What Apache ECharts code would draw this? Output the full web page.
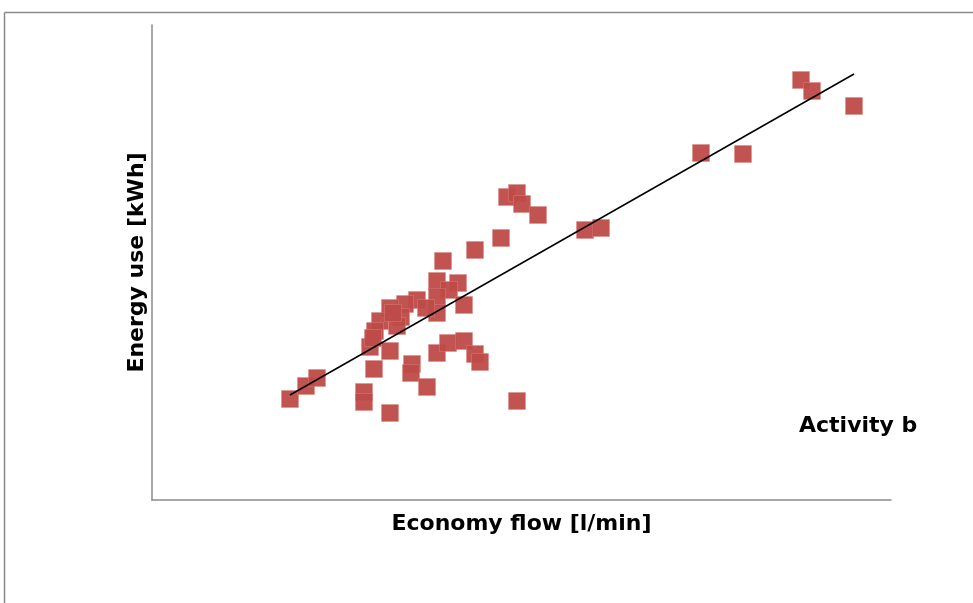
<!DOCTYPE html>
<html>
<head>
<meta charset="utf-8">
<script src="https://cdn.jsdelivr.net/npm/echarts@6/dist/echarts.min.js"></script>
<style>
html,body{margin:0;padding:0;background:#fff;}
#c{width:973px;height:603px;}
</style>
</head>
<body>
<div id="c"></div>
<script>
// Scatter points (arbitrary units, axes have no labels)
var flowValues = [13.8,15.4,16.5,21.2,21.2,23.8,22.2,23.8,21.8,26.0,25.9,27.5,28.5,29.6,31.2,32.3,32.8,36.5,
  28.5,30.6,29.7,28.5,31.2,28.5,26.5,27.4,25.3,23.8,24.9,22.8,24.5,22.3,22.1,24.1,
  29.1,32.3,34.9,35.5,36.5,37.0,38.6,43.3,44.9,54.9,59.1,64.9,66.0,70.2];
var energyValues = [10.1,11.4,12.2,10.8,9.8,8.7,13.1,14.9,15.3,13.6,12.7,11.3,14.7,15.7,15.9,14.6,13.8,9.9,
  21.9,21.7,21.0,20.3,19.5,18.7,20.0,19.2,19.6,19.2,18.3,17.9,17.4,16.9,16.2,18.7,
  23.9,25.0,26.2,30.3,30.7,29.6,28.5,27.0,27.2,34.7,34.6,42.0,40.9,39.4];
// Trend line end points
var trendFlow = [13.8, 70.2];
var trendEnergy = [10.5, 42.6];
var xTitle = 'Economy flow [l/min]';
var yTitle = 'Energy use [kWh]';
var note = 'Activity b';

var pts = flowValues.map(function(v,i){return [v, energyValues[i]];});
var trend = trendFlow.map(function(v,i){return [v, trendEnergy[i]];});

var chart = echarts.init(document.getElementById('c'), null, {renderer:'canvas'});
var font = '"DejaVu Sans", sans-serif';
chart.setOption({
  animation:false,
  backgroundColor:'#fff',
  grid:{left:152, top:25, width:739, height:475},
  xAxis:{type:'value', min:0, max:73.9,
    axisLine:{show:true, lineStyle:{color:'#8a8a8a', width:1.5}},
    axisTick:{show:false}, axisLabel:{show:false}, splitLine:{show:false},
    name:xTitle, nameLocation:'middle', nameGap:13,
    nameTextStyle:{fontFamily:font, fontWeight:'bold', fontSize:22, color:'#000'}},
  yAxis:{type:'value', min:0, max:47.5,
    axisLine:{show:true, lineStyle:{color:'#8a8a8a', width:1.5}},
    axisTick:{show:false}, axisLabel:{show:false}, splitLine:{show:false},
    name:yTitle, nameLocation:'middle', nameGap:4,
    nameTextStyle:{fontFamily:font, fontWeight:'bold', fontSize:22, color:'#000'}},
  graphic:[
    {type:'line', shape:{x1:4.5,y1:12.5,x2:973,y2:12.5}, style:{stroke:'#8a8a8a', lineWidth:1.5}},
    {type:'line', shape:{x1:4.5,y1:12.5,x2:4.5,y2:603}, style:{stroke:'#8a8a8a', lineWidth:1.5}},
    {type:'text', left:799, top:415, style:{text:note, font:'bold 22px '+font, fill:'#000'}}
  ],
  series:[
    {type:'scatter', data:pts, symbol:'rect', symbolSize:17,
     itemStyle:{color:'#BE4B48', opacity:0.95, borderColor:'rgba(220,130,128,0.6)', borderWidth:0.8}, z:2},
    {type:'line', data:trend, symbol:'none', lineStyle:{color:'#000', width:1.5}, z:3, silent:true}
  ]
});
</script>
</body>
</html>
